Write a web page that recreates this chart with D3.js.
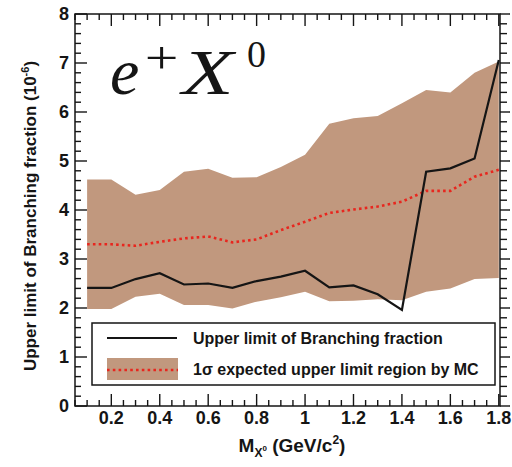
<!DOCTYPE html>
<html>
<head>
<meta charset="utf-8">
<script src="https://cdn.jsdelivr.net/npm/d3@7"></script>
<style>
  html, body { margin: 0; padding: 0; background: #fff; }
  svg { display: block; }
</style>
</head>
<body>
<svg id="chart" width="512" height="467"></svg>
<script>
// X0 mass points (GeV/c^2)
const mass = [0.1, 0.2, 0.3, 0.4, 0.5, 0.6, 0.7, 0.8, 0.9, 1.0, 1.1, 1.2, 1.3, 1.4, 1.5, 1.6, 1.7, 1.8];
// Observed upper limit of the branching fraction (10^-6)
const upperLimit = [2.41, 2.41, 2.59, 2.71, 2.48, 2.50, 2.41, 2.55, 2.64, 2.76, 2.42, 2.46, 2.28, 1.96, 4.78, 4.85, 5.05, 7.06];
// Expected (median) upper limit from MC
const expectedMedian = [3.30, 3.30, 3.27, 3.35, 3.42, 3.46, 3.34, 3.40, 3.59, 3.76, 3.94, 4.01, 4.07, 4.17, 4.39, 4.39, 4.68, 4.82];
// 1 sigma expected region from MC
const bandLow = [1.98, 1.98, 2.23, 2.29, 2.06, 2.06, 1.99, 2.13, 2.22, 2.33, 2.14, 2.15, 2.18, 2.16, 2.33, 2.40, 2.59, 2.61];
const bandHigh = [4.62, 4.62, 4.31, 4.41, 4.78, 4.84, 4.66, 4.67, 4.88, 5.13, 5.76, 5.87, 5.92, 6.18, 6.45, 6.40, 6.80, 7.03];
// Axis tick labels
const xTicks = [0.2, 0.4, 0.6, 0.8, 1.0, 1.2, 1.4, 1.6, 1.8];
const yTicks = [0, 1, 2, 3, 4, 5, 6, 7, 8];
const legendLabels = ["Upper limit of Branching fraction", "1\u03c3 expected upper limit region by MC"];

const BAND = "#c1987e";
const RED = "#e8261e";
const INK = "#151515";
const SANS = "'Liberation Sans', Arial, sans-serif";
const SERIF = "'Liberation Serif', 'Times New Roman', serif";

const svg = d3.select("#chart");
const L = 75, R = 500, T = 14, B = 406;

const x = d3.scaleLinear().domain([0.05, 1.805]).range([L, R]);
const y = d3.scaleLinear().domain([0, 8]).range([B, T]);

const rows = mass.map((m, i) => ({
  m, ul: upperLimit[i], med: expectedMedian[i], lo: bandLow[i], hi: bandHigh[i]
}));

// expected 1 sigma band
svg.append("path")
  .datum(rows)
  .attr("fill", BAND)
  .attr("d", d3.area().x(d => x(d.m)).y0(d => y(d.lo)).y1(d => y(d.hi)));

// expected median (dotted)
svg.append("path")
  .datum(rows)
  .attr("fill", "none")
  .attr("stroke", RED)
  .attr("stroke-width", 2.6)
  .attr("stroke-dasharray", "2.6 3.2")
  .attr("d", d3.line().x(d => x(d.m)).y(d => y(d.med)));

// observed limit
svg.append("path")
  .datum(rows)
  .attr("fill", "none")
  .attr("stroke", INK)
  .attr("stroke-width", 2.2)
  .attr("d", d3.line().x(d => x(d.m)).y(d => y(d.ul)));

// tick marks: inside on left/bottom/top, outside on the right
const xMinor = d3.range(0.05, 1.8001, 0.05).map(v => +v.toFixed(2))
  .filter(v => !xTicks.some(t => Math.abs(t - v) < 1e-6));
const yMinor = d3.range(0, 8.0001, 0.2).map(v => +v.toFixed(2))
  .filter(v => Math.abs(v - Math.round(v)) > 1e-6);

const ticks = svg.append("g").attr("stroke", INK).attr("stroke-width", 1.4);
function hTicks(vals, len, edge, dir) {
  ticks.append("g").selectAll("line").data(vals).join("line")
    .attr("x1", d => x(d)).attr("x2", d => x(d))
    .attr("y1", edge).attr("y2", edge + dir * len);
}
function vTicks(vals, len, edge, dir) {
  ticks.append("g").selectAll("line").data(vals).join("line")
    .attr("y1", d => y(d)).attr("y2", d => y(d))
    .attr("x1", edge).attr("x2", edge + dir * len);
}
hTicks(xTicks, 12, B, -1);
hTicks(xMinor, 6, B, -1);
hTicks(xTicks, 12, T, 1);
hTicks(xMinor, 6, T, 1);
vTicks(yTicks, 12, L, 1);
vTicks(yMinor, 6, L, 1);
vTicks(yTicks, 10, R, 1);
vTicks(yMinor, 7, R, 1);

// tick labels
svg.append("g").selectAll("text").data(xTicks).join("text")
  .attr("x", d => x(d)).attr("y", 424).attr("text-anchor", "middle")
  .attr("font-family", SANS).attr("font-weight", "bold").attr("font-size", 18).attr("fill", INK)
  .text(d3.format("~g"));
svg.append("g").selectAll("text").data(yTicks).join("text")
  .attr("x", 69).attr("y", d => y(d)).attr("dy", "0.36em").attr("text-anchor", "end")
  .attr("font-family", SANS).attr("font-weight", "bold").attr("font-size", 18).attr("fill", INK)
  .text(d3.format("~g"));

// frame
svg.append("rect")
  .attr("x", L).attr("y", T).attr("width", R - L).attr("height", B - T)
  .attr("fill", "none").attr("stroke", INK).attr("stroke-width", 1.5);

// channel label e+X0
svg.append("text").attr("x", 110).attr("y", 94)
  .attr("font-family", SERIF).attr("font-style", "italic").attr("font-size", 66).attr("fill", INK).text("e");
svg.append("text").attr("transform", "translate(161.5,73) scale(1.3,1)").attr("text-anchor", "middle")
  .attr("font-family", SERIF).attr("font-size", 46).attr("fill", INK).text("+");
svg.append("text").attr("transform", "translate(182,94) scale(1.32,1)")
  .attr("font-family", SERIF).attr("font-style", "italic").attr("font-size", 64).attr("fill", INK).text("X");
svg.append("text").attr("x", 247).attr("y", 67)
  .attr("font-family", SERIF).attr("font-size", 38).attr("fill", INK).text("0");

// axis titles
const xt = svg.append("text").attr("x", 292).attr("y", 452).attr("text-anchor", "middle")
  .attr("font-family", SANS).attr("font-weight", "bold").attr("font-size", 19).attr("fill", INK);
xt.append("tspan").text("M");
xt.append("tspan").attr("font-size", 12).attr("dy", 5).text("X");
xt.append("tspan").attr("font-size", 8).attr("dy", -6).text("0");
xt.append("tspan").attr("dy", 1).text(" (GeV/c");
xt.append("tspan").attr("font-size", 12).attr("dy", -8).text("2");
xt.append("tspan").attr("dy", 8).text(")");

const yt = svg.append("text").attr("transform", "translate(36,216) rotate(-90)").attr("text-anchor", "middle")
  .attr("font-family", SANS).attr("font-weight", "bold").attr("font-size", 17).attr("fill", INK);
yt.append("tspan").text("Upper limit of Branching fraction (10");
yt.append("tspan").attr("font-size", 11).attr("dy", -7).text("-6");
yt.append("tspan").attr("dy", 7).text(")");

// legend
const lg = svg.append("g");
lg.append("rect").attr("x", 92).attr("y", 323).attr("width", 403).attr("height", 62)
  .attr("fill", "#fff").attr("stroke", INK).attr("stroke-width", 1.5);
lg.append("line").attr("x1", 107).attr("x2", 177).attr("y1", 338).attr("y2", 338)
  .attr("stroke", INK).attr("stroke-width", 2.2);
lg.append("rect").attr("x", 107).attr("y", 358).attr("width", 71).attr("height", 22).attr("fill", BAND);
lg.append("line").attr("x1", 107).attr("x2", 178).attr("y1", 370).attr("y2", 370)
  .attr("stroke", RED).attr("stroke-width", 2.6).attr("stroke-dasharray", "2.6 3.2");
lg.selectAll("text.lab").data(legendLabels).join("text").attr("class", "lab")
  .attr("x", 193).attr("y", (d, i) => 344 + i * 31)
  .attr("font-family", SANS).attr("font-weight", "bold").attr("font-size", 16).attr("fill", INK)
  .text(d => d);
</script>
</body>
</html>
